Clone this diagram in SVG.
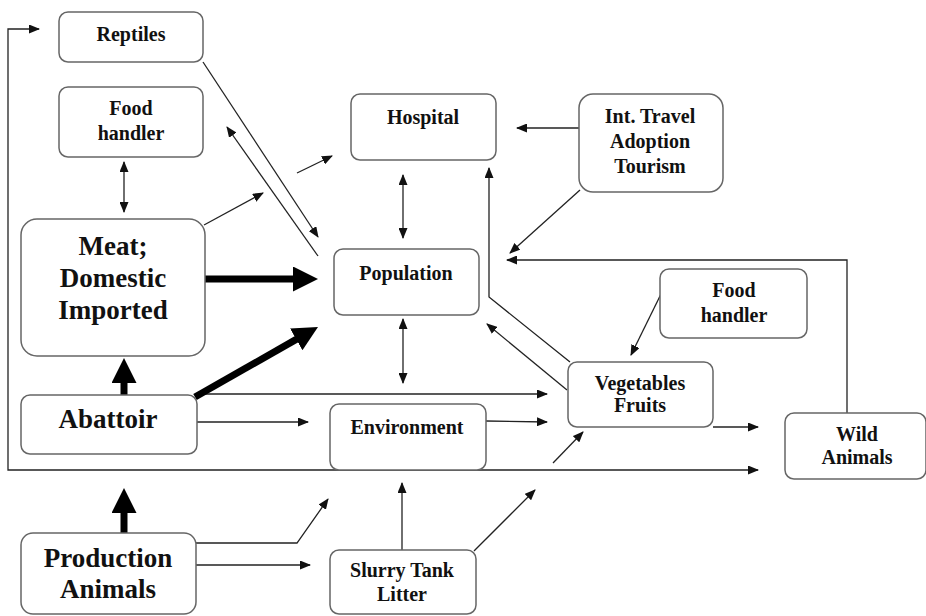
<svg xmlns="http://www.w3.org/2000/svg" width="926" height="616" viewBox="0 0 926 616">
<style>
.box{fill:#fff;stroke:#666;stroke-width:1.5}
.c{fill:none;stroke:#222;stroke-width:1.3}
.a{marker-end:url(#ah)}
.d{marker-start:url(#ah);marker-end:url(#ah)}
.k{fill:none;stroke:#000;stroke-width:7;marker-end:url(#th)}
</style>
<defs>
<marker id="ah" markerUnits="userSpaceOnUse" markerWidth="11" markerHeight="9" refX="10" refY="4.5" orient="auto-start-reverse"><path d="M0,0 L11,4.5 L0,9 z" fill="#111"/></marker>
<marker id="th" markerUnits="userSpaceOnUse" markerWidth="25" markerHeight="25" refX="5" refY="12.5" orient="auto"><path d="M0,0 L25,12.5 L0,25 z" fill="#000"/></marker>
</defs>
<rect width="926" height="616" fill="#fff"/>
<g id="connectors">
<path class="c d" d="M758,470 H8 V29 H39"/>
<path class="c a" d="M197,394 H547"/>
<path class="c a" d="M197,422 H308"/>
<path class="c a" d="M486,421 L547,422"/>
<path class="c a" d="M553,463 L583,432"/>
<path class="c a" d="M567,390 L487,324"/>
<path class="c a" d="M570,362 L489,297 V168"/>
<path class="c d" d="M403,175 V238"/>
<path class="c d" d="M403,319 V383"/>
<path class="c a" d="M579,128 H517"/>
<path class="c a" d="M580,190 L510,253"/>
<path class="c a" d="M847,413 V260 H507"/>
<path class="c a" d="M662,292 L631,355"/>
<path class="c a" d="M713,427 H758"/>
<path class="c a" d="M203,62 L318,237"/>
<path class="c a" d="M318,256 L227,127"/>
<path class="c a" d="M204,225 L263,193"/>
<path class="c a" d="M297,173 L332,156"/>
<path class="c d" d="M124,162 V212"/>
<path class="c a" d="M196,543 H297 L328,499"/>
<path class="c a" d="M196,565 H310"/>
<path class="c a" d="M402,550 V483"/>
<path class="c a" d="M474,551 L535,490"/>
<path class="k" d="M205,279 H298"/>
<path class="k" d="M195,397 L300.6,336.9"/>
<path class="k" d="M124,395 V378"/>
<path class="k" d="M124,533 V508"/>
</g>
<g font-family="Liberation Serif, serif" font-weight="bold" font-size="20" fill="#111" text-anchor="middle">
<g id="reptiles"><rect class="box" x="59" y="12" width="144" height="50" rx="9"/><text x="131" y="41">Reptiles</text></g>
<g id="food-handler-left"><rect class="box" x="59" y="87" width="144" height="70" rx="9"/><text x="131" y="115">Food</text><text x="131" y="140">handler</text></g>
<g id="meat" font-size="27"><rect class="box" x="21" y="219" width="184" height="137" rx="16"/><text x="113" y="255">Meat;</text><text x="113" y="287">Domestic</text><text x="113" y="319">Imported</text></g>
<g id="abattoir" font-size="27"><rect class="box" x="21" y="395" width="176" height="59" rx="9"/><text x="108" y="428">Abattoir</text></g>
<g id="production" font-size="27"><rect class="box" x="21" y="533" width="175" height="81" rx="12"/><text x="108" y="567">Production</text><text x="108" y="598">Animals</text></g>
<g id="hospital"><rect class="box" x="351" y="94" width="145" height="66" rx="9"/><text x="423" y="124">Hospital</text></g>
<g id="travel"><rect class="box" x="579" y="94" width="144" height="98" rx="14"/><text x="650" y="123">Int. Travel</text><text x="650" y="148">Adoption</text><text x="650" y="173">Tourism</text></g>
<g id="population"><rect class="box" x="334" y="249" width="145" height="66" rx="9"/><text x="406" y="280">Population</text></g>
<g id="food-handler-right"><rect class="box" x="660" y="269" width="147" height="69" rx="9"/><text x="734" y="297">Food</text><text x="734" y="322">handler</text></g>
<g id="vegetables"><rect class="box" x="568" y="362" width="145" height="65" rx="9"/><text x="640" y="390">Vegetables</text><text x="640" y="412">Fruits</text></g>
<g id="environment"><rect class="box" x="330" y="404" width="156" height="66" rx="9"/><text x="407" y="434">Environment</text></g>
<g id="wild"><rect class="box" x="785" y="413" width="141" height="66" rx="9"/><text x="857" y="441">Wild</text><text x="857" y="464">Animals</text></g>
<g id="slurry"><rect class="box" x="330" y="550" width="146" height="64" rx="9"/><text x="402" y="577">Slurry Tank</text><text x="402" y="601">Litter</text></g>
</g>
</svg>
